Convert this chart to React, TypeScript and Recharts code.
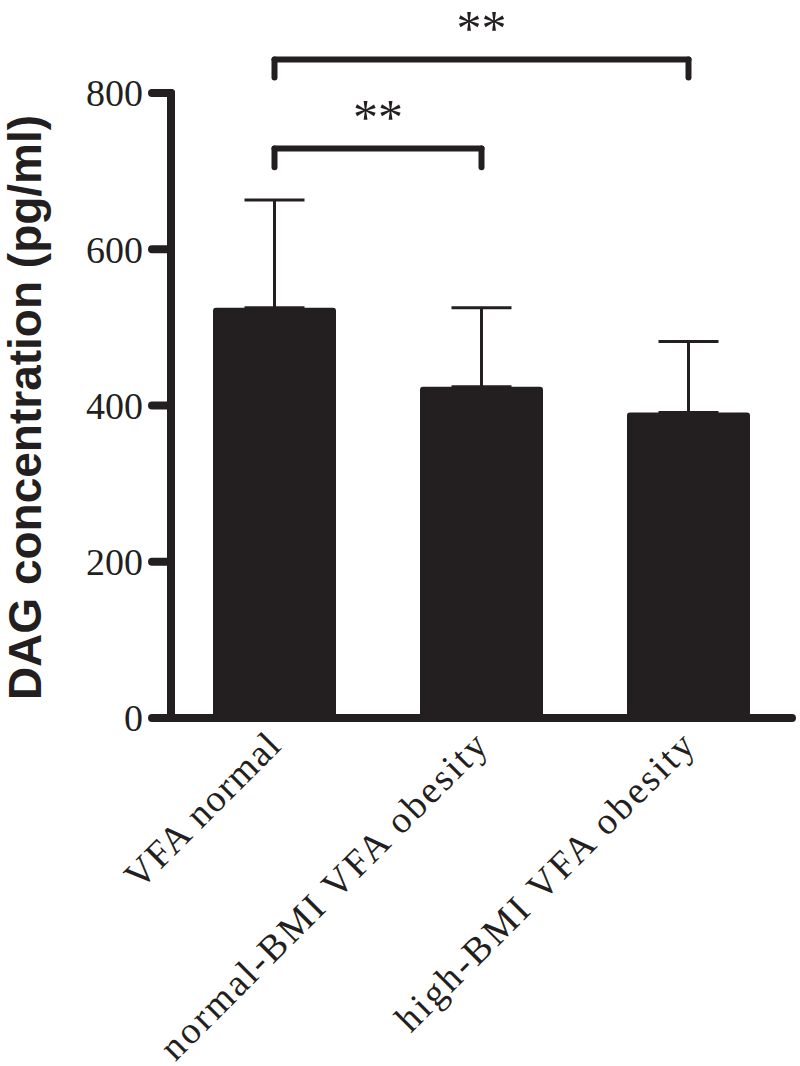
import React from 'react';
import { BarChart, Bar, XAxis, YAxis, ErrorBar, ReferenceLine } from 'recharts';

const categories = ['VFA normal', 'normal-BMI VFA obesity', 'high-BMI VFA obesity'];
const means = [525, 424, 391];
const sds = [138, 101, 91];
const yTicks = [0, 200, 400, 600, 800];

// significance brackets: [from, to, level, leg bottom, label]
const bracketFrom = [0, 0];
const bracketTo = [1, 2];
const bracketLevels = [729, 843];
const bracketLegEnds = [705, 820];
const bracketLabels = ['**', '**'];

const INK = '#231f20';

const data = categories.map((name, i) => ({
  name,
  mean: means[i],
  err: [0, sds[i]],
}));

const CategoryTick = (props: any) => {
  const { x, y, payload } = props;
  const label = String(payload.value);
  return (
    <g transform={`translate(${x + 8},${y + 30}) rotate(-45)`}>
      <text
        x={0}
        y={0}
        textAnchor="end"
        fontFamily="Liberation Serif"
        fontSize={38}
        fill={INK}
        textLength={label.length * 20.2}
        lengthAdjust="spacing"
      >
        {label}
      </text>
    </g>
  );
};

const YTitle = (props: any) => {
  const { viewBox } = props;
  const cx = viewBox.x - 30;
  const cy = viewBox.y + viewBox.height / 2 + 2;
  return (
    <text
      x={cx}
      y={cy}
      transform={`rotate(-90, ${cx}, ${cy})`}
      textAnchor="middle"
      fontFamily="Liberation Sans"
      fontWeight="bold"
      fontSize={46}
      fill={INK}
    >
      DAG concentration (pg/ml)
    </text>
  );
};

const lineStyle = { stroke: INK, strokeWidth: 6, strokeLinecap: 'round' as const };

export default function App() {
  return (
    <div style={{ position: 'absolute', left: 0, top: 0, background: '#fff' }}>
      <BarChart
        width={800}
        height={1066}
        data={data}
        margin={{ top: 93, right: 8, bottom: 98, left: 71 }}
      >
        <XAxis
          dataKey="name"
          interval={0}
          height={250}
          tickLine={false}
          tickSize={0}
          tickMargin={0}
          axisLine={{ stroke: INK, strokeWidth: 8, strokeLinecap: 'round' }}
          tick={<CategoryTick />}
        />
        <YAxis
          width={100}
          domain={[0, 800]}
          ticks={yTicks}
          interval={0}
          tickSize={19}
          tickMargin={9}
          axisLine={{ stroke: INK, strokeWidth: 8, strokeLinecap: 'round' }}
          tickLine={{ stroke: INK, strokeWidth: 8, strokeLinecap: 'round' }}
          tick={{ fill: INK, fontSize: 38, fontFamily: 'Liberation Serif' }}
          label={{ content: <YTitle /> }}
        />
        <Bar dataKey="mean" fill={INK} barSize={123} radius={[3, 3, 0, 0]} isAnimationActive={false}>
          <ErrorBar dataKey="err" width={30} stroke={INK} strokeWidth={3} direction="y" isAnimationActive={false} />
        </Bar>
        {bracketLevels.map((level, i) => {
          const a = categories[bracketFrom[i]];
          const b = categories[bracketTo[i]];
          return (
            <React.Fragment key={i}>
              <ReferenceLine
                segment={[{ x: a, y: level }, { x: b, y: level }]}
                ifOverflow="visible"
                {...lineStyle}
                label={{
                  value: bracketLabels[i],
                  position: 'top',
                  offset: 14,
                  fontSize: 50,
                  fontFamily: 'Liberation Serif',
                  fill: INK,
                }}
              />
              <ReferenceLine
                segment={[{ x: a, y: level }, { x: a, y: bracketLegEnds[i] }]}
                ifOverflow="visible"
                {...lineStyle}
              />
              <ReferenceLine
                segment={[{ x: b, y: level }, { x: b, y: bracketLegEnds[i] }]}
                ifOverflow="visible"
                {...lineStyle}
              />
            </React.Fragment>
          );
        })}
      </BarChart>
    </div>
  );
}
